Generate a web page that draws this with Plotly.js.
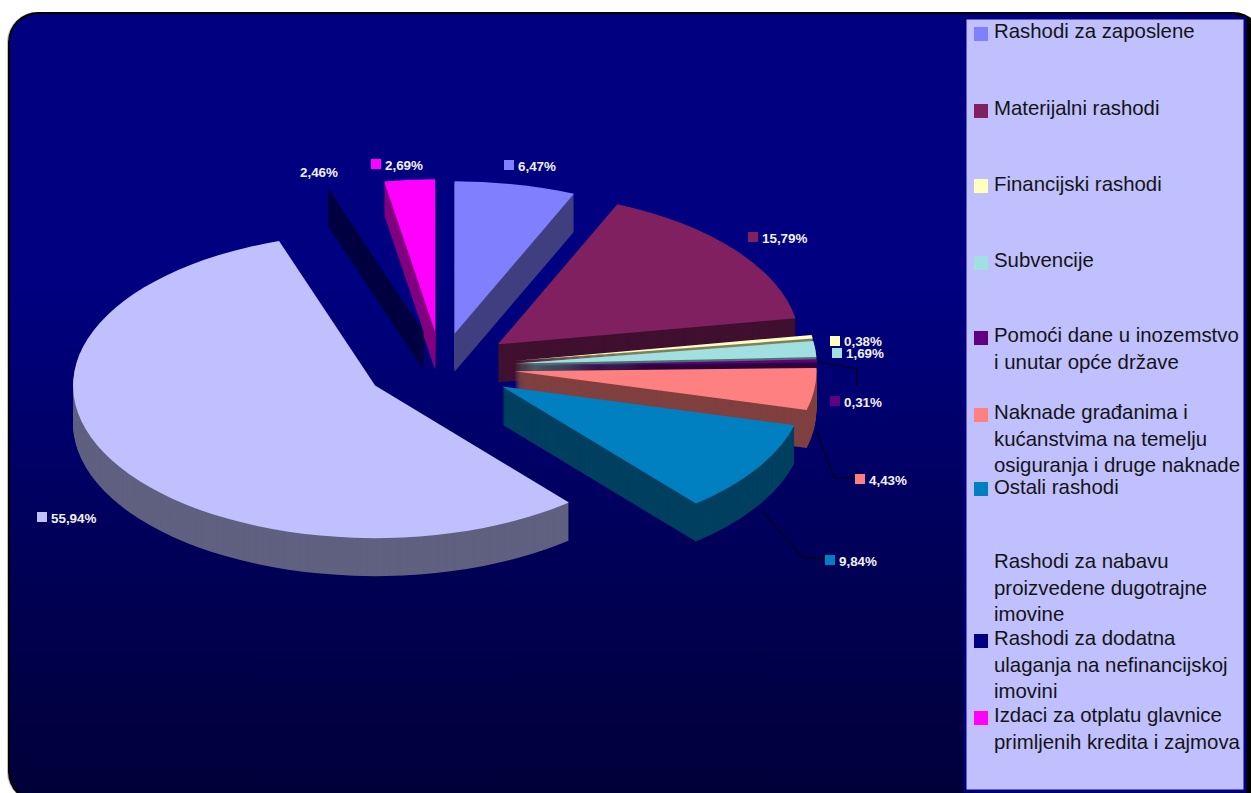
<!DOCTYPE html>
<html>
<head>
<meta charset="utf-8">
<script src="https://cdn.plot.ly/plotly-3.0.1.min.js"></script>
<style>
html,body{margin:0;padding:0;background:#fff;width:1251px;height:793px;overflow:hidden}
#frame{position:absolute;left:8px;top:12px;width:1255px;height:790px;box-sizing:border-box;border:2px solid #000;border-right-width:18px;border-radius:30px;
background:linear-gradient(to bottom,#000080 0%,#000080 35%,#000056 70%,#000038 100%);box-shadow:-1px 0 0 #c0c0c0}
#chart{position:absolute;left:0;top:0;width:1251px;height:793px}
</style>
</head>
<body>
<div id="frame"></div>
<div id="chart"></div>
<script>
// ---- data ----
const categories = [
  "Rashodi za zaposlene","Materijalni rashodi","Financijski rashodi","Subvencije",
  "Pomoći dane u inozemstvo<br>i unutar opće države",
  "Naknade građanima i<br>kućanstvima na temelju<br>osiguranja i druge naknade",
  "Ostali rashodi",
  "Rashodi za nabavu<br>proizvedene dugotrajne<br>imovine",
  "Rashodi za dodatna<br>ulaganja na nefinancijskoj<br>imovini",
  "Izdaci za otplatu glavnice<br>primljenih kredita i zajmova"
];
const values = [6.47,15.79,0.38,1.69,0.31,4.43,9.84,55.94,2.46,2.69];
const valueLabels = ["6,47%","15,79%","0,38%","1,69%","0,31%","4,43%","9,84%","55,94%","2,46%","2,69%"];
const topColors  = ["#8080ff","#802060","#ffffc0","#a0e0e0","#600080","#ff8080","#0080c0","#c0c0ff","#000080","#ff00ff"];
const sideColors = ["#404080","#401030","#808060","#507070","#300040","#804040","#004060","#606080","#000040","#800080"];
const pulls = [0.222,0.24,0.245,0.245,0.245,0.245,0.24,0.25,0.232,0.232];

// ---- layout constants (pixels of the 1251x793 page) ----
const W = 1251, H = 793;
const fx = x => x / W, fy = y => 1 - y / H;
const domainSize = 600, radiusFlat = domainSize / (2 + 2 * Math.max(...pulls));
const radiusOut = 302, sx = radiusOut / radiusFlat, sy = sx * 0.505;
const centreX = 441, centreY = 367, flatY = 350, depthPx = 38;

const labelSwatchX = [504,748,830,832,830,855,825,37,286,371];
const labelSwatchY = [165,237,341,353,401,479,560,517,172,164];
const legendRowY   = [32,109,185,261,336,413,488,562,639,716];
const legendSwatchY= [34,111,186,263,338,415,489,null,641,718];
const leaders = [
  [[818,362],[857,369],[857,386]],
  [[817,432],[834,478],[855,478]],
  [[762,511],[803,558],[825,559]]
];

// ---- pie: stacked layers make the extruded body ----
const traces = [];
for (let k = depthPx; k >= 0; k--) {
  const y = flatY + k / sy;
  traces.push({
    type: "pie", values: values, labels: categories, sort: false, direction: "clockwise", rotation: 0,
    pull: pulls, textinfo: "none", hoverinfo: "skip", showlegend: false,
    marker: {colors: k === 0 ? topColors : sideColors, line: {width: 0}},
    domain: {x: [fx(centreX - domainSize/2), fx(centreX + domainSize/2)],
             y: [fy(y + domainSize/2), fy(y - domainSize/2)]}
  });
}

// ---- legend panel, swatches, leader lines, labels ----
const rect = (x0,y0,x1,y1,fill,lineColor,lw) => ({type:"rect",xref:"paper",yref:"paper",
  x0:fx(x0),x1:fx(x1),y0:fy(y0),y1:fy(y1),fillcolor:fill,line:{color:lineColor||fill,width:lw||0}});
const shapes = [rect(965,18,1245,791,"#c0c0ff","#000080",3)];
const annotations = [];
categories.forEach((c,i)=>{
  if (legendSwatchY[i] !== null) shapes.push(rect(974,legendSwatchY[i]-7,988,legendSwatchY[i]+7,topColors[i]));
  annotations.push({xref:"paper",yref:"paper",x:fx(992),y:fy(legendRowY[i]-14),xanchor:"left",yanchor:"top",align:"left",
    showarrow:false,text:c,font:{family:"Liberation Sans",size:20.4,color:"#141414"}});
  shapes.push(rect(labelSwatchX[i],labelSwatchY[i]-5,labelSwatchX[i]+10,labelSwatchY[i]+5,topColors[i]));
  annotations.push({xref:"paper",yref:"paper",x:fx(labelSwatchX[i]+12),y:fy(labelSwatchY[i]+1),xanchor:"left",yanchor:"middle",
    showarrow:false,text:"<b>"+valueLabels[i]+"</b>",font:{family:"Liberation Sans",size:13.4,color:"#f0f0f0"}});
});
leaders.forEach(l=>{
  for (let j=0;j<l.length-1;j++) shapes.push({type:"line",xref:"paper",yref:"paper",
    x0:fx(l[j][0]),y0:fy(l[j][1]),x1:fx(l[j+1][0]),y1:fy(l[j+1][1]),line:{color:"#000",width:1}});
});

Plotly.newPlot("chart", traces, {
  width: W, height: H, margin:{l:0,r:0,t:0,b:0},
  paper_bgcolor:"rgba(0,0,0,0)", plot_bgcolor:"rgba(0,0,0,0)",
  showlegend:false, shapes:shapes, annotations:annotations
}, {displayModeBar:false, staticPlot:true}).then(gd=>{
  // tilt: squash the pie layer into the ellipse of the 3-D view
  const tx = centreX - sx*centreX, ty = centreY - sy*flatY;
  gd.querySelector(".pielayer").setAttribute("transform",`matrix(${sx} 0 0 ${sy} ${tx} ${ty})`);
});
</script>
</body>
</html>
